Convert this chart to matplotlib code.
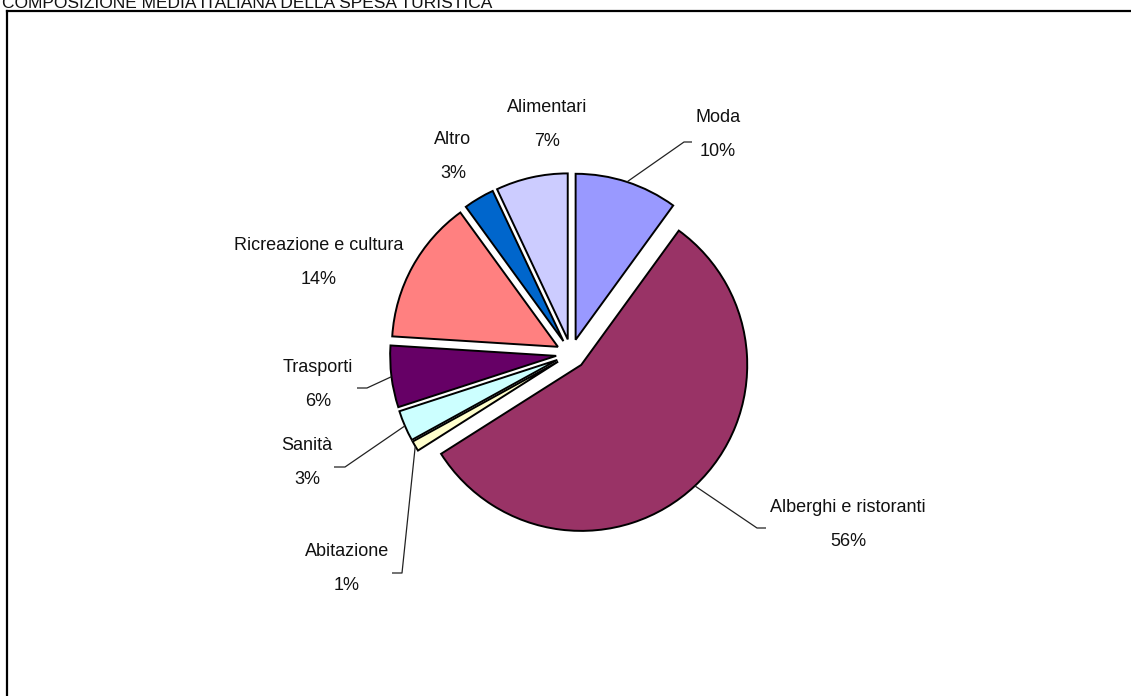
import matplotlib
matplotlib.use("Agg")
import matplotlib.pyplot as plt
import numpy as np

# ---- data ----
categories = ["Moda", "Alberghi e ristoranti", "Abitazione", "Sanità",
              "Trasporti", "Ricreazione e cultura", "Altro", "Alimentari"]
values = [10, 56, 1, 3, 6, 14, 3, 7]
pct_labels = ["10%", "56%", "1%", "3%", "6%", "14%", "3%", "7%"]
colors = ["#9999FF", "#993366", "#FFFFCC", "#CCFFFF",
          "#660066", "#FF8080", "#0066CC", "#CCCCFF"]
title = "COMPOSIZIONE MEDIA ITALIANA DELLA SPESA TURISTICA"

# ---- layout (pixels) ----
W, H = 1131, 696
CX, CY, R = 571, 354, 166
# label centre (name line) in pixels
label_pos = [(718, 118), (848, 508), (347, 552), (307, 445),
             (318, 368), (319, 245), (453, 140), (547, 107)]
line_gap = 34
# leader elbow/end in pixels (None = no leader)
leaders = [((684, 142), (692, 142)), ((757, 528), (766, 528)),
           ((402, 573), (392, 573)), ((345, 467), (334, 467)),
           ((367, 388), (357, 388)), None, None, None]

font = ["Liberation Sans Narrow", "Liberation Sans", "DejaVu Sans"]

fig = plt.figure(figsize=(W / 100, H / 100), dpi=100)
ax = fig.add_axes([0, 0, 1, 1])


def px2d(x, y):
    return ((x - CX) / R, (CY - y) / R)


wedges, _ = ax.pie(values, startangle=90, counterclock=False,
                   explode=[0.09] * len(values), colors=colors, radius=1,
                   center=(0, 0),
                   wedgeprops=dict(edgecolor="black", linewidth=1.4))

ax.set_xlim(-CX / R, (W - CX) / R)
ax.set_ylim(-(H - CY) / R, CY / R)
ax.set_aspect("auto")
ax.axis("off")

for i, w in enumerate(wedges):
    lx, ly = label_pos[i]
    x1, y1 = px2d(lx, ly)
    x2, y2 = px2d(lx, ly + line_gap)
    ax.text(x1, y1, categories[i], ha="center", va="center",
            fontsize=13, family=font, color="#111111")
    ax.text(x2, y2, pct_labels[i], ha="center", va="center",
            fontsize=13, family=font, color="#111111")
    if leaders[i] is not None:
        mid = np.deg2rad((w.theta1 + w.theta2) / 2)
        cx, cy = w.center
        sx, sy = cx + w.r * np.cos(mid), cy + w.r * np.sin(mid)
        (ex, ey), (hx, hy) = leaders[i]
        e = px2d(ex, ey)
        h = px2d(hx, hy)
        ax.plot([sx, e[0], h[0]], [sy, e[1], h[1]], color="#222222",
                lw=0.9, solid_capstyle="butt")

# frame lines (top and left)
fig.add_artist(plt.Line2D([7 / W, 1], [1 - 11 / H, 1 - 11 / H],
                          transform=fig.transFigure, color="black", lw=1.6))
fig.add_artist(plt.Line2D([7 / W, 7 / W], [1 - 11 / H, 0],
                          transform=fig.transFigure, color="black", lw=1.6))

fig.text(2 / W, 1 - 8 / H, title, ha="left", va="baseline",
         fontsize=12.5, family=font, color="#111111")

fig.savefig("out.png", dpi=100)
